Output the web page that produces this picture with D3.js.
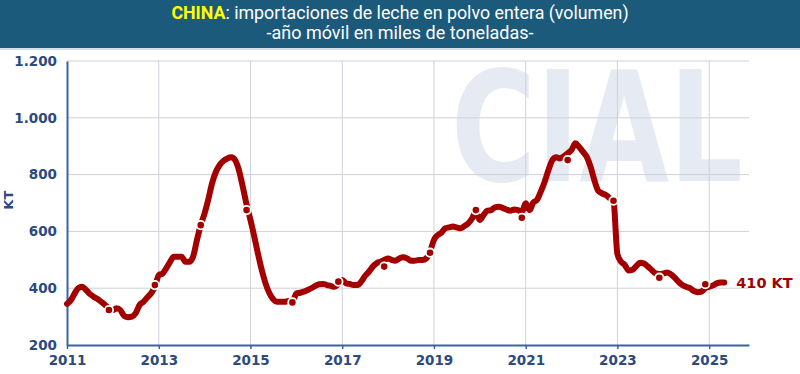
<!DOCTYPE html>
<html>
<head>
<meta charset="utf-8">
<script src="https://cdn.jsdelivr.net/npm/d3@7"></script>
<style>
  body { margin: 0; background: #fff; }
  svg { display: block; }
</style>
</head>
<body>
<svg width="800" height="374"></svg>
<script>
// rolling-year monthly volume, thousand tonnes (Jan 2011 - May 2025)
var years = [2011, 2012, 2013, 2014, 2015, 2016, 2017, 2018, 2019, 2020, 2021, 2022, 2023, 2024, 2025];
var monthly = [
  [345, 358, 380, 400, 405, 394, 380, 370, 362, 352, 341, 329],
  [323, 329, 323, 302, 298, 300, 312, 341, 352, 367, 382, 405],
  [446, 452, 470, 493, 511, 511, 511, 493, 493, 511, 570, 622],
  [664, 716, 769, 810, 834, 849, 857, 861, 851, 816, 757, 695],
  [640, 581, 523, 464, 417, 382, 361, 352, 352, 352, 355, 352],
  [381, 384, 388, 394, 400, 408, 414, 415, 411, 408, 405, 415],
  [429, 417, 415, 411, 411, 423, 443, 458, 476, 488, 493, 499],
  [505, 499, 497, 505, 509, 505, 497, 497, 499, 499, 505, 529],
  [570, 587, 595, 611, 614, 617, 614, 611, 619, 628, 646, 669],
  [640, 658, 673, 675, 685, 687, 683, 677, 673, 677, 675, 669],
  [699, 675, 701, 711, 740, 775, 816, 851, 861, 857, 865, 875],
  [887, 910, 898, 881, 863, 828, 781, 743, 734, 728, 717, 705],
  [520, 492, 482, 462, 465, 478, 490, 487, 476, 464, 452, 450],
  [452, 455, 449, 437, 423, 411, 405, 400, 390, 386, 388, 400],
  [405, 410, 417, 420, 420]
];
// december markers
var markerYears = [2011, 2012, 2013, 2014, 2015, 2016, 2017, 2018, 2019, 2020, 2021, 2022, 2023, 2024];
var markerValues = [323, 411, 622, 675, 350, 423, 476, 525, 675, 648, 851, 708, 437, 414];
var yTicks = [200, 400, 600, 800, 1000, 1200];
var xTickYears = [2011, 2013, 2015, 2017, 2019, 2021, 2023, 2025];
var lastLabel = "410 KT";

var svg = d3.select("svg"),
    width = +svg.attr("width"),
    height = +svg.attr("height");

var red = "#a30000",
    navy = "#2c4a7e",
    axisBlue = "#3a62a6";

var data = [];
monthly.forEach(function(row, i) {
  row.forEach(function(v, m) {
    data.push({ date: new Date(years[i], m, 1), value: v });
  });
});
var markers = markerYears.map(function(y, i) {
  return { date: new Date(y, 11, 1), value: markerValues[i] };
});

var x = d3.scaleTime()
    .domain([new Date(2011, 0, 1), new Date(2025, 10, 14)])
    .range([67, 749]);
var y = d3.scaleLinear()
    .domain([200, 1200])
    .range([345, 61]);

var es = d3.formatLocale({ decimal: ",", thousands: ".", grouping: [3], currency: ["", ""] });
var fmt = es.format(",d");

// header band
svg.append("rect").attr("x", 0).attr("y", 0).attr("width", width).attr("height", 48).attr("fill", "#1c5a7c");
svg.append("rect").attr("x", 0).attr("y", 48).attr("width", width).attr("height", 2).attr("fill", "#d5e1ea");

var t1 = svg.append("text")
    .attr("x", 400).attr("y", 19)
    .attr("text-anchor", "middle")
    .style("font-family", "Roboto, sans-serif")
    .style("font-size", "17.8px")
    .attr("fill", "#fff");
t1.append("tspan").attr("fill", "#ffff00").style("font-weight", "bold").text("CHINA");
t1.append("tspan").text(": importaciones de leche en polvo entera (volumen)");

svg.append("text")
    .attr("x", 400).attr("y", 39)
    .attr("text-anchor", "middle")
    .style("font-family", "Roboto, sans-serif")
    .style("font-size", "18px")
    .attr("fill", "#fff")
    .text("-año móvil en miles de toneladas-");

// watermark
svg.append("text")
    .attr("x", 451).attr("y", 181)
    .attr("textLength", 292)
    .attr("lengthAdjust", "spacingAndGlyphs")
    .style("font-family", "DejaVu Sans, sans-serif")
    .style("font-weight", "bold")
    .style("font-size", "154px")
    .attr("fill", "#e6eaf3")
    .text("CIAL");

// grid
var g = svg.append("g");
g.selectAll("line.h")
  .data(yTicks.slice(1))
  .enter().append("line")
    .attr("class", "h")
    .attr("x1", x.range()[0]).attr("x2", x.range()[1])
    .attr("y1", function(d) { return y(d); })
    .attr("y2", function(d) { return y(d); })
    .attr("stroke", "#cfd0da").attr("stroke-width", 1);
g.selectAll("line.v")
  .data(xTickYears.slice(1))
  .enter().append("line")
    .attr("class", "v")
    .attr("y1", y(200)).attr("y2", y(1200))
    .attr("x1", function(d) { return x(new Date(d, 0, 1)); })
    .attr("x2", function(d) { return x(new Date(d, 0, 1)); })
    .attr("stroke", "#cfd0da").attr("stroke-width", 1);

// axes
var xAxis = svg.append("g")
    .attr("transform", "translate(0," + y(200) + ")")
    .call(d3.axisBottom(x)
      .tickValues(xTickYears.map(function(d) { return new Date(d, 0, 1); }))
      .tickFormat(d3.timeFormat("%Y"))
      .tickSize(4)
      .tickSizeOuter(0));
xAxis.select(".domain").attr("stroke", axisBlue).attr("stroke-width", 2);
xAxis.selectAll(".tick line").attr("stroke", axisBlue).attr("stroke-width", 1.5);
xAxis.selectAll(".tick text")
    .attr("y", 10)
    .attr("dy", "0.71em")
    .attr("fill", navy)
    .style("font-family", "DejaVu Sans, Verdana, sans-serif")
    .style("font-weight", "bold")
    .style("font-size", "13.5px");

var yAxis = svg.append("g")
    .attr("transform", "translate(" + x.range()[0] + ",0)")
    .call(d3.axisLeft(y)
      .tickValues(yTicks)
      .tickFormat(fmt)
      .tickSize(0)
      .tickPadding(10));
yAxis.select(".domain").attr("stroke", axisBlue).attr("stroke-width", 2);
yAxis.selectAll(".tick text")
    .attr("fill", navy)
    .style("font-family", "DejaVu Sans, Verdana, sans-serif")
    .style("font-weight", "bold")
    .style("font-size", "13.5px");

svg.append("text")
    .attr("transform", "translate(13," + y(710) + ") rotate(-90)")
    .attr("text-anchor", "middle")
    .attr("fill", navy)
    .style("font-family", "DejaVu Sans, Verdana, sans-serif")
    .style("font-weight", "bold")
    .style("font-size", "13px")
    .text("KT");

// series
var line = d3.line()
    .x(function(d) { return x(d.date); })
    .y(function(d) { return y(d.value); })
    .curve(d3.curveMonotoneX);

svg.append("path")
    .datum(data)
    .attr("d", line)
    .attr("fill", "none")
    .attr("stroke", red)
    .attr("stroke-width", 6)
    .attr("stroke-linejoin", "round")
    .attr("stroke-linecap", "round");

svg.append("g").selectAll("circle")
  .data(markers)
  .enter().append("circle")
    .attr("cx", function(d) { return x(d.date); })
    .attr("cy", function(d) { return y(d.value); })
    .attr("r", 4.2)
    .attr("fill", red)
    .attr("stroke", "#fff")
    .attr("stroke-width", 1.8);

var last = data[data.length - 1];
svg.append("text")
    .attr("x", x(last.date) + 12)
    .attr("y", y(last.value))
    .attr("dy", "0.36em")
    .attr("fill", red)
    .style("font-family", "DejaVu Sans, Verdana, sans-serif")
    .style("font-weight", "bold")
    .style("font-size", "14.5px")
    .text(lastLabel);
</script>
</body>
</html>
